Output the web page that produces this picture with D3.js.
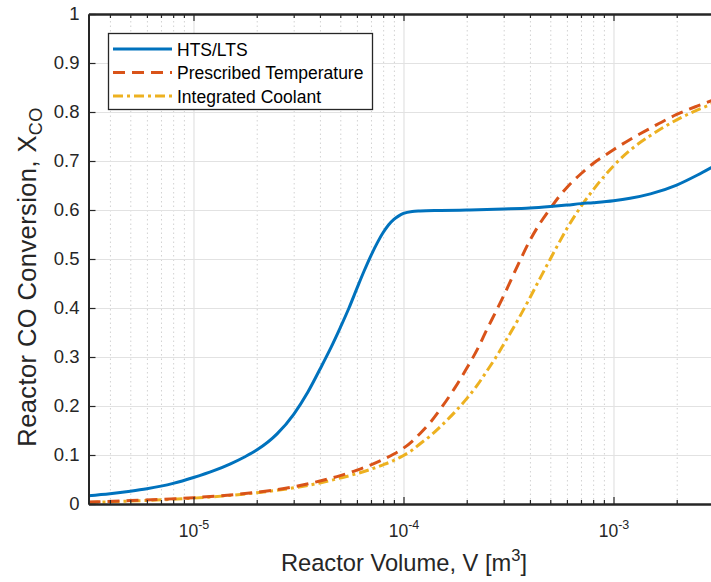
<!DOCTYPE html>
<html>
<head>
<meta charset="utf-8">
<script src="https://cdn.jsdelivr.net/npm/d3@7"></script>
<style>
  html, body { margin: 0; padding: 0; background: #fff; }
  svg { display: block; font-family: "Liberation Sans", Arial, Helvetica, sans-serif; }
</style>
</head>
<body>
<svg id="chart" width="711" height="582"></svg>
<script>
// ---- data ----
const htsVolume = [3.162e-6, 4e-6, 5e-6, 6e-6, 8e-6, 1e-5, 1.25e-5, 1.5e-5, 1.75e-5, 2e-5, 2.5e-5, 3e-5,
  3.5e-5, 4e-5, 4.5e-5, 5e-5, 5.5e-5, 6e-5, 6.5e-5, 7e-5, 7.5e-5, 8e-5, 8.5e-5, 9e-5, 9.5e-5,
  1e-4, 1.1e-4, 1.2e-4, 1.5e-4, 2e-4, 3e-4, 4e-4, 5e-4, 6e-4, 7e-4, 8e-4,
  1e-3, 1.2e-3, 1.5e-3, 2e-3, 2.5e-3, 3.162e-3];
const htsConversion = [0.017, 0.021, 0.026, 0.031, 0.042, 0.054, 0.068, 0.082, 0.096, 0.110, 0.143, 0.183,
  0.228, 0.275, 0.318, 0.360, 0.400, 0.440, 0.476, 0.507, 0.533, 0.554, 0.570, 0.581, 0.588,
  0.593, 0.597, 0.598, 0.599, 0.600, 0.602, 0.604, 0.607, 0.610, 0.613, 0.615,
  0.619, 0.624, 0.633, 0.651, 0.671, 0.695];

const ptVolume = [3.162e-6, 5e-6, 1e-5, 2e-5, 3e-5, 4e-5, 5e-5, 6e-5, 7e-5, 8e-5, 9e-5,
  1e-4, 1.1e-4, 1.2e-4, 1.35e-4, 1.5e-4, 1.75e-4, 2e-4, 2.25e-4, 2.5e-4, 2.75e-4, 3e-4,
  3.5e-4, 4e-4, 4.5e-4, 5e-4, 5.5e-4, 6e-4, 7e-4, 8e-4, 9e-4,
  1e-3, 1.2e-3, 1.5e-3, 2e-3, 2.5e-3, 3.162e-3];
const ptConversion = [0.004, 0.007, 0.013, 0.024, 0.035, 0.047, 0.058, 0.069, 0.080, 0.091, 0.102,
  0.114, 0.128, 0.144, 0.168, 0.194, 0.236, 0.277, 0.316, 0.357, 0.392, 0.425,
  0.487, 0.538, 0.575, 0.603, 0.627, 0.646, 0.674, 0.695, 0.710,
  0.723, 0.744, 0.767, 0.795, 0.812, 0.828];

const icVolume = [3.162e-6, 5e-6, 1e-5, 2e-5, 3e-5, 4e-5, 5e-5, 6e-5, 7e-5, 8e-5, 9e-5,
  1e-4, 1.1e-4, 1.2e-4, 1.35e-4, 1.5e-4, 1.75e-4, 2e-4, 2.25e-4, 2.5e-4, 2.75e-4, 3e-4,
  3.5e-4, 4e-4, 4.5e-4, 5e-4, 5.5e-4, 6e-4, 7e-4, 8e-4, 9e-4,
  1e-3, 1.2e-3, 1.5e-3, 2e-3, 2.5e-3, 3.162e-3];
const icConversion = [0.003, 0.006, 0.012, 0.023, 0.033, 0.043, 0.053, 0.062, 0.071, 0.080, 0.089,
  0.099, 0.110, 0.123, 0.140, 0.158, 0.187, 0.215, 0.243, 0.272, 0.299, 0.326,
  0.375, 0.421, 0.463, 0.500, 0.533, 0.562, 0.607, 0.641, 0.668,
  0.690, 0.722, 0.752, 0.784, 0.804, 0.821];

const seriesNames = ["HTS/LTS", "Prescribed Temperature", "Integrated Coolant"];
const xMajorTicks = [1e-5, 1e-4, 1e-3];
const xTickExponents = ["-5", "-4", "-3"];
const yTicks = [0, 0.1, 0.2, 0.3, 0.4, 0.5, 0.6, 0.7, 0.8, 0.9, 1];
const yTickLabels = ["0", "0.1", "0.2", "0.3", "0.4", "0.5", "0.6", "0.7", "0.8", "0.9", "1"];
const xDomain = [Math.pow(10, -5.5), Math.pow(10, -2.5)];
const yDomain = [0, 1];

// ---- layout ----
const pLeft = 88.5, pRight = 718.5, pTop = 14, pBottom = 504;
const svg = d3.select("#chart");
const x = d3.scaleLog().domain(xDomain).range([pLeft, pRight]);
const y = d3.scaleLinear().domain(yDomain).range([pBottom, pTop]);

// minor ticks
const xMinorTicks = [];
for (let e = -6; e <= -3; e++) {
  for (let m = 2; m <= 9; m++) {
    const v = m * Math.pow(10, e);
    if (v > xDomain[0] && v < xDomain[1]) xMinorTicks.push(v);
  }
}

svg.append("defs").append("clipPath").attr("id", "clip")
  .append("rect").attr("x", pLeft).attr("y", pTop).attr("width", pRight - pLeft).attr("height", pBottom - pTop);

const axisColor = "#262626";

// ---- grid ----
const grid = svg.append("g");
grid.append("g").attr("transform", `translate(0,${pBottom})`)
  .call(d3.axisBottom(x).tickValues(xMinorTicks).tickSize(-(pBottom - pTop)).tickFormat(""))
  .call(g => g.select(".domain").remove())
  .call(g => g.selectAll("line").attr("stroke", "#d2d2d2").attr("stroke-width", 1).attr("stroke-dasharray", "1.5,3"));
grid.append("g").attr("transform", `translate(0,${pBottom})`)
  .call(d3.axisBottom(x).tickValues(xMajorTicks).tickSize(-(pBottom - pTop)).tickFormat(""))
  .call(g => g.select(".domain").remove())
  .call(g => g.selectAll("line").attr("stroke", "#e2e2e2").attr("stroke-width", 1.2));
grid.append("g").attr("transform", `translate(${pLeft},0)`)
  .call(d3.axisLeft(y).tickValues(yTicks).tickSize(-(pRight - pLeft)).tickFormat(""))
  .call(g => g.select(".domain").remove())
  .call(g => g.selectAll("line").attr("stroke", "#e2e2e2").attr("stroke-width", 1.2));

// ---- lines ----
const makeLine = (xs, ys) => d3.line()
  .x((d, i) => x(xs[i]))
  .y(d => y(d))
  .curve(d3.curveMonotoneX)(ys);
const plot = svg.append("g").attr("clip-path", "url(#clip)");
const styles = [
  { color: "#0072BD", dash: null },
  { color: "#D95319", dash: "12,7" },
  { color: "#EDB120", dash: "10,4,3,4" }
];
const series = [[htsVolume, htsConversion], [ptVolume, ptConversion], [icVolume, icConversion]];
[2, 1, 0].forEach(k => {
  plot.append("path").attr("d", makeLine(series[k][0], series[k][1]))
    .attr("fill", "none").attr("stroke", styles[k].color).attr("stroke-width", 3)
    .attr("stroke-dasharray", styles[k].dash);
});

// ---- axes ----
const xAxisB = svg.append("g").attr("transform", `translate(0,${pBottom})`);
xAxisB.call(d3.axisBottom(x).tickValues(xMinorTicks).tickSizeInner(-4).tickSizeOuter(0).tickFormat(""));
xAxisB.append("g").call(d3.axisBottom(x).tickValues(xMajorTicks).tickSizeInner(-7).tickSizeOuter(0)
  .tickFormat(() => "10"));
xAxisB.selectAll("path.domain").attr("stroke", axisColor).attr("stroke-width", 2);
xAxisB.selectAll("line").attr("stroke", axisColor).attr("stroke-width", 1.2);
xAxisB.selectAll("text")
  .attr("y", 33).attr("dy", 0)
  .attr("fill", axisColor).attr("font-size", 17.5)
  .attr("font-family", "'Liberation Sans', Arial, sans-serif")
  .each(function(d) {
    d3.select(this).append("tspan").attr("dy", -8).attr("font-size", 12.5)
      .text(xTickExponents[xMajorTicks.indexOf(d)]);
  });

const xAxisT = svg.append("g").attr("transform", `translate(0,${pTop})`);
xAxisT.call(d3.axisTop(x).tickValues(xMinorTicks).tickSizeInner(-4).tickSizeOuter(0).tickFormat(""));
xAxisT.append("g").call(d3.axisTop(x).tickValues(xMajorTicks).tickSizeInner(-7).tickSizeOuter(0).tickFormat(""));
xAxisT.selectAll("path.domain").attr("stroke", axisColor).attr("stroke-width", 2);
xAxisT.selectAll("line").attr("stroke", axisColor).attr("stroke-width", 1.2);

const yAxis = svg.append("g").attr("transform", `translate(${pLeft},0)`);
yAxis.call(d3.axisLeft(y).tickValues(yTicks).tickSizeInner(-7).tickSizeOuter(0)
  .tickPadding(9).tickFormat((d, i) => yTickLabels[i]));
yAxis.select("path.domain").attr("stroke", axisColor).attr("stroke-width", 2);
yAxis.selectAll("line").attr("stroke", axisColor).attr("stroke-width", 1.2);
yAxis.selectAll("text").attr("fill", axisColor).attr("font-size", 18.5)
  .attr("font-family", "'Liberation Sans', Arial, sans-serif");

// ---- axis labels ----
const xl = svg.append("text").attr("x", 404).attr("y", 571).attr("text-anchor", "middle")
  .attr("font-size", 23.7).attr("fill", axisColor);
xl.append("tspan").text("Reactor Volume, V [m");
xl.append("tspan").attr("dy", -10).attr("font-size", 16.5).text("3");
xl.append("tspan").attr("dy", 10).text("]");

const yl = svg.append("text").attr("transform", `translate(36,277) rotate(-90)`)
  .attr("text-anchor", "middle").attr("font-size", 25.5).attr("letter-spacing", 0.4).attr("fill", axisColor);
yl.append("tspan").text("Reactor CO Conversion, X");
yl.append("tspan").attr("dy", 6).attr("font-size", 18).text("CO");

// ---- legend ----
const lg = svg.append("g");
lg.append("rect").attr("x", 108.5).attr("y", 33.5).attr("width", 264).attr("height", 76)
  .attr("fill", "#fff").attr("stroke", axisColor).attr("stroke-width", 1.3);
seriesNames.forEach((name, k) => {
  const cy = 49 + k * 23.5;
  lg.append("line").attr("x1", 113).attr("x2", 172).attr("y1", cy).attr("y2", cy)
    .attr("stroke", styles[k].color).attr("stroke-width", 3).attr("stroke-dasharray", styles[k].dash);
  lg.append("text").attr("x", 177).attr("y", cy + 6.5).attr("font-size", 17.5).attr("fill", "#000").text(name);
});
</script>
</body>
</html>
